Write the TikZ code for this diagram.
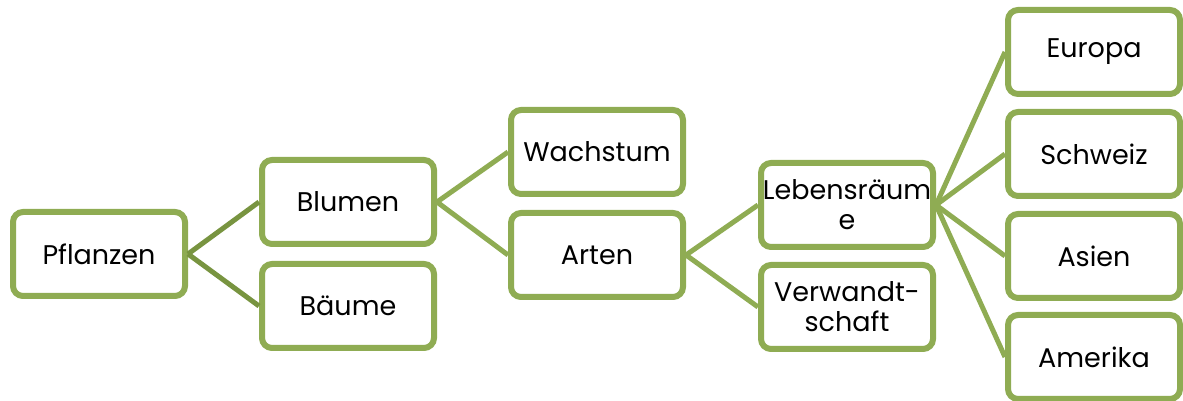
\documentclass[tikz,border=0pt]{standalone}
\usepackage{fontspec}
\setmainfont{Poppins}
\definecolor{boxgreen}{HTML}{8FAC53}
\definecolor{rootgreen}{HTML}{789440}

\begin{document}
\begin{tikzpicture}[x=1pt,y=1pt,
    topic/.style={draw=boxgreen,line width=6pt,fill=white,rounded corners=10pt,
      minimum width=172pt,minimum height=84pt,inner sep=0pt,align=center,
      font=\fontsize{27}{30}\selectfont},
    branch/.style={draw=boxgreen,line width=5pt}]
      \useasboundingbox (0,0) rectangle (1183,401);
      % lines first, boxes on top
      \path
        (99,147) coordinate (c-pflanzen)
        (348,199) coordinate (c-blumen)
        (348,95) coordinate (c-baeume)
        (597,249) coordinate (c-wachstum)
        (597,146) coordinate (c-arten)
        (847,196) coordinate (c-lebensraeume)
        (847,94) coordinate (c-verwandtschaft)
        (1094,349) coordinate (c-europa)
        (1094,247) coordinate (c-schweiz)
        (1094,145) coordinate (c-asien)
        (1094,44) coordinate (c-amerika);
      \node[topic] (pflanzen) at (c-pflanzen) {Pflanzen};
      \node[topic] (blumen) at (c-blumen) {Blumen};
      \node[topic] (baeume) at (c-baeume) {Bäume};
      \node[topic] (wachstum) at (c-wachstum) {Wachstum};
      \node[topic] (arten) at (c-arten) {Arten};
      \node[topic] (lebensraeume) at (c-lebensraeume) {Lebensräum\\e};
      \node[topic] (verwandtschaft) at (c-verwandtschaft) {Verwandt-\\schaft};
      \node[topic] (europa) at (c-europa) {Europa};
      \node[topic] (schweiz) at (c-schweiz) {Schweiz};
      \node[topic] (asien) at (c-asien) {Asien};
      \node[topic] (amerika) at (c-amerika) {Amerika};
      \begin{scope}[branch]
        \draw[rootgreen] (pflanzen.east) -- (blumen.west);
        \draw[rootgreen] (pflanzen.east) -- (baeume.west);
        \draw (blumen.east) -- (wachstum.west);
        \draw (blumen.east) -- (arten.west);
        \draw (arten.east) -- (lebensraeume.west);
        \draw (arten.east) -- (verwandtschaft.west);
        \draw (lebensraeume.east) -- (europa.west);
        \draw (lebensraeume.east) -- (schweiz.west);
        \draw (lebensraeume.east) -- (asien.west);
        \draw (lebensraeume.east) -- (amerika.west);
      \end{scope}
    \end{tikzpicture}
\end{document}
